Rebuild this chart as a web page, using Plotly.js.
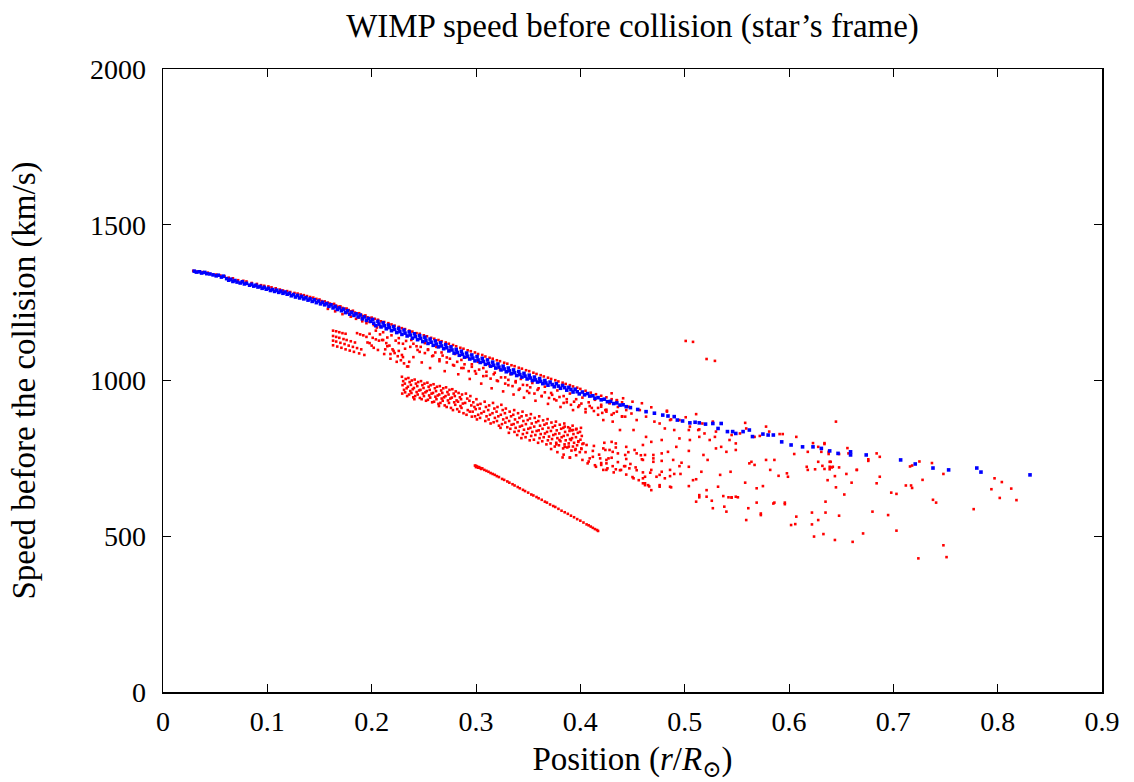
<!DOCTYPE html>
<html>
<head>
<meta charset="utf-8">
<script src="https://cdn.plot.ly/plotly-3.0.1.min.js"></script>
<style>html,body{margin:0;padding:0;background:#fff;}#chart{width:1134px;height:782px;}</style>
</head>
<body>
<div id="chart"></div>
<script>
// Axis ticks
const xTicks = [0, 0.1, 0.2, 0.3, 0.4, 0.5, 0.6, 0.7, 0.8, 0.9];
const xTickLabels = ["0", "0.1", "0.2", "0.3", "0.4", "0.5", "0.6", "0.7", "0.8", "0.9"];
const yTicks = [0, 500, 1000, 1500, 2000];
const yTickLabels = ["0", "500", "1000", "1500", "2000"];

// Blue series: [r/Rsun, speed km/s]
const blueInner = [[0.030,1351],[0.032,1348],[0.035,1349],[0.037,1345],[0.040,1347],[0.042,1343],[0.045,1342],[0.048,1339],[0.051,1336],[0.053,1338],[0.056,1332],[0.058,1335],[0.061,1327],[0.063,1322],[0.065,1325],[0.067,1318],[0.069,1321],[0.071,1316],[0.074,1313],[0.076,1317],[0.078,1310],[0.080,1312],[0.083,1306],[0.085,1309],[0.087,1303],[0.089,1306],[0.091,1300],[0.093,1302],[0.095,1296],[0.097,1299],[0.099,1293],
[0.101,1296],[0.103,1289],[0.105,1292],[0.107,1286],[0.109,1290],[0.111,1283],[0.113,1287],[0.115,1280],[0.117,1284],[0.119,1277],[0.121,1280],[0.123,1272],[0.125,1276],[0.127,1268],[0.129,1273],[0.131,1265],[0.133,1270],[0.135,1262],[0.137,1266],[0.139,1258],[0.141,1262],[0.143,1254],[0.145,1259],[0.147,1250],[0.149,1255],[0.151,1246],[0.153,1251],[0.155,1243],[0.157,1247],[0.159,1238],[0.161,1243],[0.163,1233],[0.165,1238],[0.167,1228],[0.169,1233],[0.171,1224],[0.173,1229],[0.175,1218],[0.177,1224],[0.179,1213],[0.181,1219],[0.183,1209],[0.185,1214],[0.187,1204],[0.189,1210],[0.191,1198],[0.193,1204],[0.195,1193],[0.197,1199],[0.199,1190]];
const blueMiddle = [[0.201,1196],[0.202,1184],[0.204,1176],[0.206,1190],[0.207,1181],[0.209,1172],[0.211,1185],[0.212,1176],[0.214,1166],[0.216,1178],[0.217,1170],[0.219,1160],[0.221,1173],[0.222,1164],[0.224,1154],[0.226,1167],[0.227,1157],[0.229,1148],[0.231,1162],[0.232,1152],[0.234,1143],[0.236,1156],[0.237,1146],[0.239,1136],[0.241,1150],[0.242,1141],[0.244,1131],[0.246,1144],[0.247,1135],[0.249,1125],[0.251,1139],[0.252,1129],[0.254,1119],[0.256,1133],[0.257,1123],[0.259,1113],[0.261,1127],[0.262,1117],[0.264,1108],[0.266,1121],[0.267,1111],[0.269,1102],[0.271,1115],[0.272,1105],[0.274,1095],[0.276,1108],[0.277,1098],[0.279,1088],[0.281,1100],[0.282,1090],[0.284,1081],[0.286,1094],[0.287,1084],[0.289,1075],[0.291,1088],[0.292,1078],[0.294,1069],[0.296,1082],[0.297,1072],[0.299,1063],
[0.301,1077],[0.302,1066],[0.304,1058],[0.306,1071],[0.307,1061],[0.309,1052],[0.311,1066],[0.312,1055],[0.314,1046],[0.316,1059],[0.317,1049],[0.319,1040],[0.321,1053],[0.322,1043],[0.324,1034],[0.326,1046],[0.327,1037],[0.329,1028],[0.331,1040],[0.332,1031],[0.334,1022],[0.336,1034],[0.337,1025],[0.339,1016],[0.341,1029],[0.342,1019],[0.344,1011],[0.346,1023],[0.347,1014],[0.349,1005],[0.351,1017],[0.352,1008],[0.354,1000],[0.356,1011],[0.357,1002],[0.359,995],[0.361,1006],[0.362,997],[0.364,990],[0.366,1000],[0.367,992],[0.369,985],[0.371,995],[0.373,987],[0.375,980],[0.377,990],[0.379,982],[0.381,975],[0.383,984],[0.385,977],[0.387,969],[0.389,978],[0.391,971],[0.393,963],[0.395,972],[0.397,964],[0.399,957],[0.402,963],[0.404,954],[0.407,958],[0.409,950],[0.412,951],[0.414,943],[0.417,945],[0.420,938],[0.423,940],[0.426,932],[0.429,933],[0.432,926],[0.435,928],[0.438,921],[0.441,922],[0.444,916]];
const blueOuter = [[0.448,913],[0.455,907],[0.463,900],[0.471,895],[0.479,889],[0.484,886],[0.490,884],[0.493,873],[0.498,870],[0.505,864],[0.510,866],[0.514,864],[0.520,860],[0.527,862],[0.532,846],[0.535,862],[0.541,836],[0.546,836],[0.549,830],[0.556,836],[0.562,841],[0.565,820],[0.575,828],[0.580,825],[0.585,825],[0.593,803],[0.602,793],[0.613,787],[0.623,787],[0.631,782],[0.639,774],[0.647,766],[0.659,771],[0.659,761],[0.674,761],[0.707,745],[0.721,732],[0.738,719],[0.753,713],[0.780,719],[0.784,706],[0.831,697]];

// Red series: [r/Rsun, speed km/s]
const redUpperBand = [[0.029,1352],[0.031,1350],[0.034,1350],[0.038,1348],[0.043,1346],[0.048,1340],[0.051,1340],[0.055,1337],[0.059,1334],[0.063,1330],[0.067,1328],[0.072,1322],[0.077,1320],[0.080,1318],[0.085,1313],[0.090,1310],[0.094,1306],[0.097,1304],[0.101,1302],[0.104,1299],[0.108,1296],[0.112,1292],[0.115,1289],[0.119,1287],[0.122,1284],[0.126,1281],[0.129,1279],[0.132,1276],[0.135,1274],[0.138,1271],[0.141,1268],[0.144,1266],[0.147,1262],[0.150,1260],[0.152,1255],[0.155,1254],[0.158,1250],[0.160,1247],[0.162,1244],[0.164,1246],[0.166,1240],[0.168,1237],[0.170,1238],[0.172,1233],[0.174,1230],[0.176,1231],[0.178,1226],[0.180,1222],[0.182,1224],[0.184,1218],[0.186,1215],[0.188,1216],[0.190,1211],[0.192,1207],[0.194,1209],[0.196,1203],[0.198,1200],[0.200,1202],
[0.158,1230],[0.165,1222],[0.172,1213],[0.176,1218],[0.180,1205],[0.185,1198],[0.188,1202],[0.191,1190],[0.195,1184],[0.198,1188],[0.202,1178],[0.205,1170],[0.208,1174],
[0.203,1198],[0.206,1195],[0.209,1190],[0.212,1188],[0.216,1184],[0.219,1180],[0.222,1176],[0.226,1172],[0.229,1168],[0.232,1165],[0.236,1160],[0.239,1157],[0.243,1152],[0.246,1150],[0.250,1145],[0.253,1142],[0.257,1137],[0.260,1134],[0.264,1130],[0.267,1126],[0.271,1122],[0.274,1118],[0.278,1114],[0.281,1110],[0.285,1105],[0.288,1102],[0.292,1097],[0.295,1094],[0.299,1090],[0.302,1085],[0.306,1082],[0.309,1077],[0.313,1073],[0.316,1070],[0.320,1065],[0.323,1062],[0.327,1057],[0.330,1054],[0.334,1049],[0.337,1046],[0.341,1041],[0.344,1038],[0.348,1033],[0.351,1030],[0.355,1025],[0.358,1021],[0.362,1017],[0.365,1013],[0.369,1009],[0.372,1005],[0.376,1001],[0.379,997],[0.383,993],[0.386,989],[0.390,985],[0.393,981],[0.397,977],[0.400,973],[0.405,967],[0.410,961],[0.415,956],[0.420,951],[0.425,946],[0.430,940],[0.435,936],[0.440,930]];
const redBelowBand = [[0.204,1160],[0.208,1148],[0.211,1155],[0.215,1138],[0.219,1145],[0.223,1128],[0.226,1136],[0.230,1118],[0.233,1127],[0.237,1108],[0.240,1118],[0.244,1098],[0.247,1108],[0.251,1088],[0.254,1098],[0.258,1078],[0.261,1090],[0.265,1068],[0.268,1080],[0.272,1058],[0.275,1070],[0.279,1048],[0.282,1060],[0.286,1040],[0.289,1052],[0.293,1030],[0.296,1044],[0.300,1022],[0.303,1035],[0.307,1014],[0.310,1028],[0.314,1006],[0.317,1020],[0.321,998],[0.324,1010],[0.328,990],[0.331,1002],[0.335,982],[0.338,994],[0.342,974],[0.345,986],[0.349,966],[0.352,978],[0.356,958],[0.359,970],[0.363,950],[0.366,962],[0.370,944],[0.373,954],[0.377,936],[0.380,947],[0.384,928],[0.387,940],[0.391,922],[0.394,932],[0.398,915],[0.401,926],[0.405,908],[0.409,918],[0.413,902],[0.417,912],[0.421,896],[0.425,906],[0.430,890],[0.435,900],[0.440,884]];
const redStreaks = [[0.163,1160],[0.166,1158],[0.169,1155],[0.172,1152],[0.175,1150],
[0.163,1143],[0.166,1140],[0.169,1137],[0.173,1133],[0.176,1130],[0.180,1126],[0.184,1122],
[0.163,1128],[0.166,1125],[0.170,1121],[0.174,1117],[0.178,1112],[0.182,1108],[0.186,1104],[0.190,1100],
[0.163,1113],[0.167,1109],[0.171,1105],[0.175,1100],[0.179,1096],[0.183,1092],[0.188,1087],[0.193,1082],
[0.186,1152],[0.189,1148],[0.192,1145],[0.195,1140],[0.198,1150],[0.201,1137],[0.204,1132],[0.207,1128],[0.196,1122],[0.200,1112],[0.211,1130],[0.214,1120],[0.217,1112],[0.220,1100],[0.222,1088],[0.225,1078],[0.228,1065],[0.231,1055],[0.234,1045],[0.213,1100],[0.218,1085],[0.226,1095],[0.230,1075],[0.236,1060]];
const redDiffuse = [[0.198,1120],[0.202,1105],[0.206,1098],[0.210,1130],[0.212,1085],[0.215,1110],[0.218,1070],[0.221,1095],[0.224,1060],[0.226,1120],[0.229,1082],[0.232,1102],[0.235,1045],[0.238,1130],[0.240,1075],[0.243,1110],[0.246,1092],[0.248,1058],[0.251,1120],[0.254,1100],[0.256,1040],[0.259,1080],[0.262,1108],[0.265,1062],[0.267,1090],[0.270,1030],[0.272,1074],[0.275,1098],[0.278,1050],[0.280,1085],[0.283,1020],[0.286,1066],[0.288,1040],[0.291,1075],[0.294,1005],[0.296,1052],[0.299,1030],[0.302,1060],[0.305,990],[0.307,1040],[0.310,1015],[0.313,1048],[0.315,975],[0.318,1025],[0.320,1000],[0.323,1036],[0.326,965],[0.328,1010],[0.331,985],[0.333,1020],[0.336,955],[0.338,998],[0.341,970],[0.343,1005],[0.346,945],[0.349,985],[0.351,960],[0.354,992],[0.357,935],[0.360,975],[0.363,950],[0.366,980],[0.369,925],[0.372,960],[0.375,940],[0.378,968],[0.381,915],[0.384,950],[0.387,930],[0.390,958],[0.393,905],[0.396,940],[0.399,920],[0.402,945],[0.405,898],[0.408,930],[0.411,912],[0.414,938],[0.417,890],[0.420,922],[0.424,905],[0.428,928],[0.432,895],[0.436,915],[0.440,885],[0.444,905]];
const redClusterA = [[0.2290,1012],[0.2302,998],[0.2296,985],[0.2310,970],[0.2293,958],[0.2326,1005],[0.2318,990],[0.2335,975],[0.2321,962],[0.2340,950],[0.2352,1008],[0.2364,995],[0.2347,980],[0.2370,966],[0.2358,955],[0.2385,1000],[0.2376,986],[0.2394,972],[0.2381,960],[0.2399,946],[0.2412,1003],[0.2424,990],[0.2405,976],[0.2431,963],[0.2417,950],[0.2409,940],[0.2446,995],[0.2437,982],[0.2455,968],[0.2441,955],[0.2462,944],[0.2473,998],[0.2486,985],[0.2468,970],[0.2491,958],[0.2479,940],[0.2506,990],[0.2497,976],[0.2515,962],[0.2501,950],[0.2521,935],[0.2534,993],[0.2546,980],[0.2528,966],[0.2551,952],[0.2539,938],[0.2565,985],[0.2556,970],[0.2574,958],[0.2561,945],[0.2580,930],[0.2593,988],[0.2606,975],[0.2588,960],[0.2611,948],[0.2598,932],[0.2626,980],[0.2617,966],[0.2634,952],[0.2621,940],[0.2640,925],[0.2653,982],[0.2666,968],[0.2648,955],[0.2671,942],[0.2659,928],[0.2645,918],[0.2686,975],[0.2677,960],[0.2694,946],[0.2681,935],[0.2700,920],[0.2713,978],[0.2726,963],[0.2708,950],[0.2731,936],[0.2719,915],[0.2746,970],[0.2737,955],[0.2754,942],[0.2741,928],[0.2760,912],[0.2773,972],[0.2786,958],[0.2768,945],[0.2791,930],[0.2779,905],[0.2806,965],[0.2797,950],[0.2814,936],[0.2801,922],[0.2820,908],[0.2833,960],[0.2846,946],[0.2828,932],[0.2851,918],[0.2839,900],[0.2866,955],[0.2857,940],[0.2874,926],[0.2861,912],[0.2880,895],[0.2903,958],[0.2916,942],[0.2896,928],[0.2921,905],[0.2909,890],[0.2946,950],[0.2937,935],[0.2955,920],[0.2941,900],[0.2960,884]];
const redClusterB = [[0.2974,930],[0.2985,915],[0.2968,900],[0.2991,885],[0.3004,940],[0.3016,922],[0.2997,908],[0.3021,890],[0.3009,875],[0.3043,925],[0.3035,910],[0.3052,895],[0.3039,880],[0.3083,932],[0.3095,915],[0.3076,900],[0.3101,885],[0.3089,870],[0.3126,920],[0.3117,905],[0.3134,890],[0.3121,875],[0.3140,862],[0.3163,928],[0.3176,910],[0.3158,895],[0.3181,880],[0.3169,866],[0.3206,915],[0.3197,900],[0.3214,885],[0.3201,870],[0.3220,855],[0.3243,922],[0.3256,905],[0.3238,890],[0.3261,875],[0.3249,860],[0.3235,848],[0.3286,910],[0.3277,895],[0.3294,880],[0.3281,865],[0.3300,850],[0.3323,900],[0.3336,885],[0.3318,870],[0.3341,858],[0.3329,845],[0.3315,832],[0.3366,905],[0.3357,890],[0.3374,875],[0.3361,860],[0.3380,848],[0.3369,835],[0.3403,895],[0.3416,880],[0.3398,866],[0.3421,852],[0.3409,838],[0.3395,825],[0.3446,900],[0.3437,885],[0.3454,870],[0.3441,855],[0.3460,842],[0.3449,828],[0.3435,815],[0.3483,888],[0.3496,873],[0.3478,860],[0.3501,845],[0.3489,832],[0.3475,818],[0.3526,892],[0.3517,878],[0.3534,862],[0.3521,848],[0.3540,835],[0.3529,822],[0.3515,808],[0.3563,880],[0.3576,866],[0.3558,852],[0.3581,838],[0.3569,825],[0.3555,810],[0.3606,885],[0.3597,870],[0.3614,855],[0.3601,840],[0.3620,828],[0.3609,815],[0.3595,800],[0.3643,872],[0.3656,858],[0.3638,845],[0.3661,830],[0.3649,818],[0.3635,805],[0.3686,876],[0.3677,862],[0.3694,848],[0.3681,835],[0.3700,820],[0.3689,808],[0.3675,795],[0.3723,865],[0.3736,850],[0.3718,838],[0.3741,825],[0.3729,812],[0.3715,798],[0.3766,868],[0.3757,855],[0.3774,840],[0.3761,828],[0.3780,815],[0.3769,800],[0.3755,788],[0.3803,858],[0.3816,845],[0.3798,830],[0.3821,818],[0.3809,805],[0.3795,792],[0.3846,862],[0.3837,848],[0.3854,835],[0.3841,822],[0.3860,808],[0.3849,795],[0.3835,782],[0.3883,850],[0.3896,838],[0.3878,825],[0.3901,812],[0.3889,798],[0.3875,785],[0.3926,855],[0.3917,840],[0.3934,828],[0.3921,815],[0.3940,800],[0.3929,788],[0.3915,775],[0.3963,845],[0.3976,832],[0.3958,818],[0.3981,805],[0.3969,792],[0.3955,780],[0.4006,848],[0.3997,835],[0.4014,822],[0.4001,810],[0.4020,796],[0.4009,782],[0.3995,770]];
const redLowerScatter = [[0.372,780],[0.378,770],[0.384,762],[0.390,752],[0.396,760],[0.402,745],[0.408,740],[0.414,728],[0.420,735],[0.426,718],[0.432,705],[0.438,712],[0.444,698],[0.450,690],[0.456,680],[0.462,670],[0.466,660],[0.405,770],[0.412,755],[0.418,762],[0.425,745],[0.430,752],[0.436,738],[0.442,725],[0.448,732],[0.454,712],[0.460,705],[0.377,795],[0.389,788],[0.401,780],[0.413,790],[0.423,800],[0.434,785],[0.446,770],[0.458,760],[0.470,750],
[0.385,852],[0.390,846],[0.393,841],[0.396,843],[0.380,809],[0.391,809],[0.398,803],[0.403,798],[0.406,793],[0.385,787],[0.395,777],[0.390,753],[0.383,753],[0.412,774],[0.422,782],[0.431,771],[0.409,750],[0.419,750],[0.425,734],[0.407,734],[0.415,723],[0.422,713],[0.459,747],[0.468,713],[0.476,697],[0.486,713],[0.460,686],[0.462,664],[0.476,664],[0.486,659],[0.521,627],[0.545,624],[0.549,627],[0.569,608]];
const redFarScatter = [[0.430,959],[0.441,943],[0.450,932],[0.459,927],[0.468,914],[0.483,900],[0.486,873],[0.511,892],[0.527,868],[0.558,864],[0.645,868],[0.594,828],[0.591,828],[0.623,799],[0.634,799],[0.656,783],[0.684,766],[0.687,755],[0.665,713],[0.687,691],[0.684,670],[0.698,640],[0.703,636],[0.695,568],[0.703,518],[0.680,579],[0.671,509],[0.661,482],[0.644,488],[0.633,507],[0.624,499],[0.628,552],[0.622,576],[0.635,576],[0.648,566],[0.645,657],[0.653,634],[0.635,611],[0.622,538],[0.606,539],[0.602,536],[0.607,563],[0.596,603],[0.585,605],[0.573,573],[0.573,568],[0.559,552],[0.561,590],[0.551,625],[0.545,625],[0.542,625],[0.538,595],[0.540,579],[0.527,590],[0.537,629],[0.558,672],[0.569,654],[0.575,661],[0.586,608],[0.596,608],[0.598,702],[0.599,691],[0.590,694],[0.582,713],[0.578,745],[0.567,729],[0.564,739],[0.544,707],[0.534,697],[0.532,659],[0.526,614],[0.521,648],[0.514,632],[0.514,625],[0.511,611],[0.504,661],[0.508,680],[0.511,683],[0.516,707],[0.522,745],[0.518,761],[0.504,723],[0.497,736],[0.496,700],[0.490,700],[0.487,657],[0.476,659],[0.468,648],[0.465,664],[0.460,670],[0.462,691],[0.467,704],[0.473,691],[0.478,707],[0.481,686],[0.486,693],[0.495,725],[0.489,745],[0.478,742],[0.470,739],[0.460,745],[0.453,721],[0.451,686],[0.447,718],[0.443,725],[0.439,713],[0.434,715],[0.431,725],[0.425,713],[0.420,729],[0.444,748],[0.454,766],[0.462,761],[0.470,761],[0.478,766],[0.484,771],[0.492,787],[0.504,774],[0.505,809],[0.514,819],[0.524,809],[0.530,782],[0.535,787],[0.540,771],[0.549,777],[0.553,830],[0.543,809],[0.562,734],[0.586,745],[0.605,764],[0.617,723],[0.618,713],[0.625,715],[0.628,739],[0.639,739],[0.642,723],[0.648,721],[0.655,700],[0.648,764],[0.639,723],[0.676,747],[0.657,766],
[0.422,873],[0.430,803],[0.434,798],[0.428,777],[0.424,777],[0.427,750],[0.436,766],[0.443,761],[0.444,787],[0.452,777],[0.460,793],[0.468,803],[0.478,809],[0.463,819],[0.451,841],[0.438,841],[0.431,868],[0.443,884],[0.454,873],[0.463,884],[0.471,868],[0.457,905],[0.449,894],[0.425,900],[0.420,916],[0.428,927],[0.435,937],[0.446,916],[0.476,862],[0.481,846],[0.490,841],[0.495,814],[0.505,852],[0.513,841],[0.519,830],[0.529,819],[0.545,825],[0.549,798],[0.567,819],[0.578,852],[0.581,836],[0.607,819],[0.618,771],[0.628,787],[0.638,771],
[0.483,903],[0.487,875],[0.495,873],[0.501,882],[0.504,841],[0.514,843],[0.517,862],[0.530,836],[0.559,846],[0.572,822],
[0.634,796],[0.631,771],[0.638,764],[0.676,742],[0.640,739],[0.632,726],[0.634,716],[0.641,721],[0.639,715],[0.665,713],[0.644,693],[0.637,680],[0.660,672],[0.712,663],[0.717,663],[0.718,655],[0.716,724],[0.718,727],[0.725,740],[0.737,735],[0.728,681],[0.748,700],[0.738,617],[0.741,608],[0.748,471],[0.724,429],[0.751,433],[0.777,587],[0.794,651],[0.797,686],[0.804,674],[0.813,653],[0.802,623],[0.818,616]];
const redLine = [[0.299,727],[0.300,722],[0.300,726],[0.301,724],[0.302,720],[0.303,722],[0.304,719],[0.305,716],[0.306,718],[0.308,713],[0.310,710],[0.312,707],[0.314,703],[0.316,700],[0.318,697],[0.320,693],[0.322,690],[0.325,684],[0.327,681],[0.330,676],[0.332,672],[0.335,667],[0.337,663],[0.340,658],[0.342,654],[0.345,649],[0.347,645],[0.350,640],[0.353,634],[0.355,631],[0.358,626],[0.360,622],[0.363,617],[0.366,611],[0.368,608],[0.371,602],[0.374,597],[0.376,594],[0.379,588],[0.382,582],[0.385,577],[0.388,572],[0.391,566],[0.394,561],[0.397,555],[0.400,550],[0.403,544],[0.406,538],[0.408,535],[0.410,531],[0.412,527],[0.414,523],[0.416,520],[0.417,517]];
const redOutliers = [[0.501,1127],[0.508,1124],[0.521,1069],[0.529,1063]];

const redAll = [].concat(redUpperBand, redBelowBand, redStreaks, redDiffuse, redClusterA, redClusterB, redLowerScatter, redFarScatter, redLine, redOutliers);
const blueAll = [].concat(blueInner, blueMiddle, blueOuter);

const serif = "'Liberation Serif', 'DejaVu Serif', serif";

const traces = [
  {x: redAll.map(p => p[0]), y: redAll.map(p => p[1]), type: 'scatter', mode: 'markers',
   marker: {color: '#ff0000', size: 2.6, symbol: 'square', line: {width: 0}}, hoverinfo: 'skip', showlegend: false},
  {x: blueAll.map(p => p[0]), y: blueAll.map(p => p[1]), type: 'scatter', mode: 'markers',
   marker: {color: '#0000ff', size: 3.6, symbol: 'square', line: {width: 0}}, hoverinfo: 'skip', showlegend: false}
];

const axisCommon = {
  showline: true, linecolor: '#000', linewidth: 1.5, mirror: 'allticks',
  ticks: 'inside', ticklen: 8, tickwidth: 1, tickcolor: '#000',
  showgrid: false, zeroline: false,
  tickfont: {family: serif, size: 28, color: '#000'}
};

const layout = {
  width: 1134, height: 782,
  margin: {l: 163, r: 32, t: 69, b: 90},
  paper_bgcolor: '#fff', plot_bgcolor: '#fff',
  font: {family: serif, color: '#000'},
  title: {text: "WIMP speed before collision (star’s frame)", font: {family: serif, size: 33, color: '#000'},
          x: 0.5, xref: 'paper', y: 0.968, yref: 'container', yanchor: 'middle'},
  xaxis: Object.assign({}, axisCommon, {
    range: [0, 0.9], tickvals: xTicks, ticktext: xTickLabels, ticklabelstandoff: 4,
    title: {text: "Position (<i>r</i>/<i>R</i><sub>⊙</sub>)", font: {family: serif, size: 33, color: '#000'}, standoff: 12}
  }),
  yaxis: Object.assign({}, axisCommon, {
    range: [0, 2000], tickvals: yTicks, ticktext: yTickLabels, ticklabelstandoff: 10,
    title: {text: "Speed before the collision (km/s)", font: {family: serif, size: 33, color: '#000'}, standoff: 44}
  })
};

Plotly.newPlot('chart', traces, layout, {displayModeBar: false, staticPlot: true});
</script>
</body>
</html>
